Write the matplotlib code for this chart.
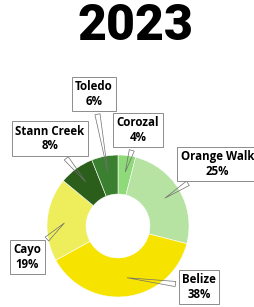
import numpy as np
import matplotlib
matplotlib.use("Agg")
from matplotlib import pyplot as plt

districts = ["Corozal", "Orange Walk", "Belize", "Cayo", "Stann Creek", "Toledo"]
shares = [4, 25, 38, 19, 8, 6]
colors = ["#8fda78", "#b6e2a2", "#f6e400", "#eeee5c", "#2b5d1b", "#3b8030"]

# label box centres (data units, pie radius = 1)
box_pos = {
    "Corozal": (0.28, 1.35),
    "Orange Walk": (1.40, 0.87),
    "Belize": (1.14, -0.86),
    "Cayo": (-1.28, -0.44),
    "Stann Creek": (-0.96, 1.23),
    "Toledo": (-0.34, 1.86),
}

W, H = 254, 307
fig = plt.figure(figsize=(W / 100, H / 100), dpi=100)
ax = fig.add_axes([0, 0, 1, 1])
scale = 71.0
cx, cy = 118, 226

wedges, _ = ax.pie(shares, colors=colors, startangle=90, counterclock=False,
                   radius=1.0, center=(0, 0), frame=True,
                   wedgeprops=dict(width=0.55, edgecolor="white", linewidth=0.4))
ax.set_xlim(-cx / scale, (W - cx) / scale)
ax.set_ylim(-(H - cy) / scale, cy / scale)
ax.axis("off")

for w, name, val in zip(wedges, districts, shares):
    mid = np.deg2rad((w.theta1 + w.theta2) / 2)
    anchor = (0.73 * np.cos(mid), 0.73 * np.sin(mid))
    ax.annotate(f"{name}\n{val}%", xy=anchor, xytext=box_pos[name],
                ha="center", va="center", fontsize=8.3, fontweight="bold",
                family=["Open Sans", "DejaVu Sans"], linespacing=1.15,
                bbox=dict(boxstyle="square,pad=0.3", fc="white", ec="#8c8c8c", lw=0.7),
                arrowprops=dict(arrowstyle="wedge,tail_width=0.45,shrink_factor=0.5",
                                fc="none", ec="#6f6f6f", lw=0.5))

fig.text(0.535, 0.915, "2023", ha="center", va="center", fontsize=36,
         fontweight="heavy", family=["Roboto", "DejaVu Sans"], color="black")

fig.savefig("out.png", dpi=100)
